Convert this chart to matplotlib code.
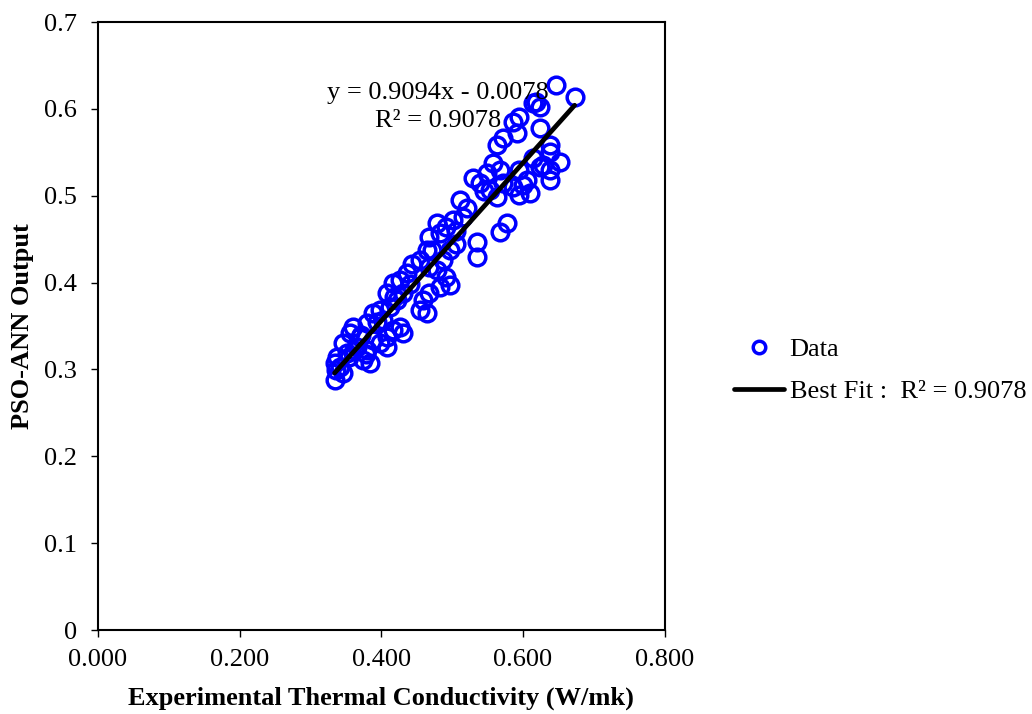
import numpy as np
import matplotlib.pyplot as plt

plt.rcParams["font.family"] = ["Liberation Serif", "DejaVu Serif"]

# experimental thermal conductivity (W/mk) vs PSO-ANN output
exp_k = [
    0.673, 0.647, 0.614, 0.624, 0.619, 0.595, 0.586, 0.591, 0.624, 0.572,
    0.563, 0.638, 0.652, 0.638, 0.614, 0.638, 0.638, 0.624, 0.595, 0.605,
    0.610, 0.595, 0.586, 0.572, 0.557, 0.567, 0.549, 0.529, 0.539, 0.563,
    0.553, 0.577, 0.567, 0.535, 0.535, 0.511, 0.521, 0.515, 0.501, 0.492,
    0.478, 0.483, 0.468, 0.506, 0.497, 0.487, 0.464, 0.454, 0.468, 0.478,
    0.492, 0.497, 0.483, 0.468, 0.459, 0.454, 0.464, 0.444, 0.436, 0.426,
    0.416, 0.430, 0.422, 0.408, 0.412, 0.398, 0.388, 0.402, 0.426, 0.430,
    0.416, 0.408, 0.380, 0.360, 0.356, 0.370, 0.388, 0.398, 0.408, 0.380,
    0.365, 0.374, 0.384, 0.346, 0.351, 0.337, 0.335, 0.341, 0.334, 0.346,
    0.336, 0.362, 0.372, 0.394, 0.418, 0.441, 0.472, 0.505, 0.545, 0.600,
    0.628, 0.355, 0.378,
]
ann_out = [
    0.614, 0.627, 0.607, 0.602, 0.608, 0.591, 0.585, 0.572, 0.578, 0.566,
    0.558, 0.558, 0.539, 0.550, 0.543, 0.530, 0.518, 0.533, 0.530, 0.518,
    0.503, 0.501, 0.510, 0.515, 0.538, 0.530, 0.526, 0.520, 0.515, 0.499,
    0.507, 0.469, 0.458, 0.447, 0.429, 0.495, 0.486, 0.476, 0.472, 0.464,
    0.469, 0.457, 0.452, 0.445, 0.437, 0.426, 0.437, 0.426, 0.418, 0.414,
    0.406, 0.397, 0.395, 0.388, 0.380, 0.368, 0.365, 0.422, 0.411, 0.403,
    0.399, 0.388, 0.380, 0.388, 0.372, 0.368, 0.365, 0.357, 0.349, 0.342,
    0.345, 0.337, 0.353, 0.349, 0.342, 0.337, 0.334, 0.330, 0.326, 0.322,
    0.326, 0.311, 0.307, 0.330, 0.319, 0.314, 0.307, 0.303, 0.288, 0.296,
    0.299, 0.322, 0.340, 0.355, 0.383, 0.398, 0.438, 0.460, 0.505, 0.512,
    0.535, 0.314, 0.318,
]

slope, intercept = 0.9094, -0.0078
r2 = 0.9078

fig = plt.figure(figsize=(10.32, 7.14), dpi=100)
ax = fig.add_axes([0.095, 0.1176, 0.549, 0.8515])

ax.plot(exp_k, ann_out, linestyle="none", marker="o", markersize=12,
        markerfacecolor="none", markeredgecolor="#0000ff", markeredgewidth=2.5,
        label="Data", zorder=2)

x_fit = np.array([min(exp_k), max(exp_k)])
ax.plot(x_fit, slope * x_fit + intercept, color="black", linewidth=3.4,
        solid_capstyle="round", label="Best Fit :  R\u00b2 = 0.9078", zorder=3)

ax.text(0.48, 0.618, f"y = {slope}x - {abs(intercept)}", fontsize=19,
        ha="center", va="center", zorder=4)
ax.text(0.48, 0.586, f"R\u00b2 = {r2}", fontsize=19,
        ha="center", va="center", zorder=4)

ax.set_xlim(0, 0.8)
ax.set_ylim(0, 0.7)
xt = np.arange(0, 0.81, 0.2)
yt = np.arange(0, 0.71, 0.1)
ax.set_xticks(xt)
ax.set_yticks(yt)
ax.set_xticklabels([f"{v:.3f}" for v in xt])
ax.set_yticklabels(["0"] + [f"{v:.1f}" for v in yt[1:]])
ax.tick_params(direction="out", length=5, width=1, labelsize=19)
ax.tick_params(axis="x", pad=9)
ax.tick_params(axis="y", pad=10)
for sp in ax.spines.values():
    sp.set_linewidth(1.5)

ax.set_xlabel("Experimental Thermal Conductivity (W/mk)", fontsize=19,
              fontweight="bold", labelpad=11)
ax.set_ylabel("PSO-ANN Output", fontsize=19, fontweight="bold", labelpad=7)

ax.legend(loc="center left", bbox_to_anchor=(1.123, 0.427), frameon=False,
          fontsize=19, handlelength=1.9, handletextpad=0.2, labelspacing=0.7,
          borderpad=0, borderaxespad=0, markerscale=0.75)

fig.savefig("out.png", dpi=100)
